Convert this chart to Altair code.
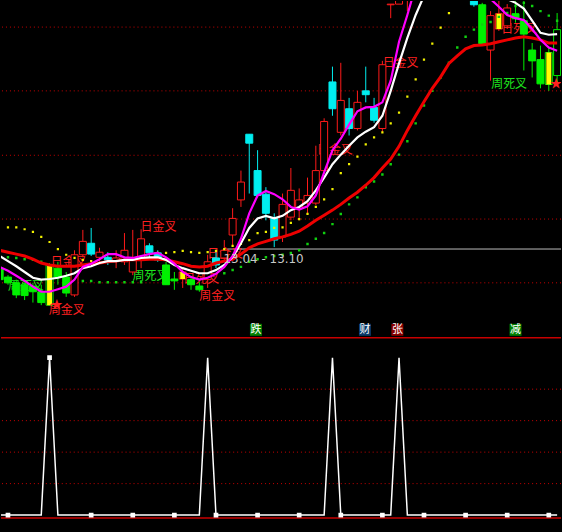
import altair as alt
import pandas as pd

# ---- candles (index -1 .. 66) ----
idx = list(range(-1, 67))

opens = [12.80, 12.67, 12.58, 12.55, 12.53, 12.44, 12.86, 12.81, 12.67, 12.39,
         13.02, 13.20, 12.98, 12.98, 12.92, 12.91, 12.75, 12.97, 13.16, 13.05,
         12.86, 12.64, 12.64, 12.63, 12.53, 12.63, 12.97, 12.97, 13.33, 13.88,
         14.91, 14.34, 13.97, 13.59, 13.30, 13.61, 13.75, 13.83, 13.83, 14.34,
         15.73, 14.94, 15.31, 15.00, 15.59, 15.33, 15.00, 16.94, 16.95, 17.50,
         17.90, 18.50, 18.20, 18.70, 18.30, 17.90, 18.00, 17.30, 16.94, 16.23,
         16.56, 16.61, 16.80, 16.69, 16.23, 16.08, 16.19, 16.55]
closes = [12.63, 12.58, 12.39, 12.38, 12.44, 12.27, 12.23, 12.67, 12.42, 13.02,
          13.23, 13.03, 13.06, 12.94, 12.97, 13.09, 12.94, 13.27, 13.05, 12.94,
          12.55, 12.61, 12.75, 12.55, 12.47, 12.91, 12.86, 13.09, 13.59, 14.16,
          14.77, 13.95, 13.67, 13.25, 13.81, 14.03, 13.88, 13.95, 14.34, 15.11,
          15.31, 15.44, 15.00, 15.41, 15.53, 15.13, 16.00, 16.95, 17.60, 17.90,
          18.40, 18.20, 18.70, 18.30, 17.90, 18.10, 17.50, 16.94, 16.33, 16.77,
          16.80, 16.89, 16.72, 16.48, 16.06, 15.70, 15.69, 15.83]
highs = [12.83, 12.70, 12.63, 12.59, 12.58, 12.55, 12.89, 12.91, 12.75, 13.09,
         13.41, 13.44, 13.13, 13.06, 13.09, 13.36, 13.41, 13.42, 13.20, 13.09,
         12.91, 12.75, 12.81, 12.69, 12.59, 13.02, 13.06, 13.25, 13.75, 14.34,
         14.91, 14.66, 14.08, 13.67, 13.98, 14.38, 14.06, 14.23, 14.73, 15.16,
         15.97, 16.03, 15.48, 15.59, 15.97, 15.48, 16.06, 16.95, 17.75, 18.10,
         18.60, 18.80, 18.90, 18.90, 18.50, 18.30, 18.10, 17.40, 16.97, 16.84,
         17.05, 16.95, 17.05, 17.05, 16.34, 16.30, 16.27, 16.81]
lows = [12.59, 12.55, 12.34, 12.31, 12.27, 12.23, 12.23, 12.55, 12.36, 12.36,
        12.98, 13.00, 12.91, 12.86, 12.81, 12.86, 12.70, 12.81, 12.97, 12.91,
        12.55, 12.47, 12.50, 12.47, 12.44, 12.50, 12.81, 12.91, 13.17, 13.77,
        13.98, 13.92, 13.56, 13.14, 13.22, 13.56, 13.56, 13.67, 13.80, 14.31,
        15.20, 14.89, 14.89, 14.97, 15.41, 15.09, 14.94, 16.73, 17.02, 16.84,
        17.70, 18.00, 18.10, 18.10, 17.80, 17.60, 17.30, 16.91, 16.30, 15.75,
        16.53, 16.56, 16.66, 15.91, 15.80, 15.63, 15.59, 15.70]
kinds = ["green", "green", "green", "green", "green", "green", "hollowgreen", "green", "green", "up",
         "up", "down", "up", "down", "up", "up", "up", "up", "down", "down",
         "green", "green", "up", "green", "green", "up", "down", "up", "up", "up",
         "down", "down", "down", "down", "up", "up", "up", "up", "up", "up",
         "down", "up", "down", "up", "down", "down", "up", "up", "up", "up",
         "up", "down", "up", "down", "down", "up", "down", "down", "green", "up",
         "up", "up", "green", "green", "green", "green", "hollowgreen", "hollowgreen"]
yellow_marked = [5, 21, 59, 65]

# ---- moving averages ----
ma_white = [13.00, 12.92, 12.84, 12.75, 12.66, 12.63, 12.64, 12.66, 12.69, 12.73,
            12.81, 12.84, 12.89, 12.92, 12.92, 12.94, 12.94, 12.97, 12.98, 12.98,
            12.94, 12.86, 12.81, 12.77, 12.73, 12.73, 12.78, 12.86, 12.98, 13.20,
            13.44, 13.59, 13.63, 13.59, 13.63, 13.72, 13.77, 13.86, 14.03, 14.23,
            14.44, 14.59, 14.73, 14.86, 14.95, 15.02, 15.20, 15.59, 16.02, 16.42,
            16.78, 17.08, 17.35, 17.55, 17.65, 17.62, 17.55, 17.45, 17.34, 17.23,
            17.13, 17.03, 16.97, 16.88, 16.69, 16.50, 16.47, 16.48]
ma_magenta = [12.83, 12.77, 12.69, 12.61, 12.52, 12.44, 12.44, 12.48, 12.52, 12.63,
              12.83, 12.88, 12.95, 13.03, 13.03, 12.98, 12.97, 13.00, 13.03, 13.05,
              12.98, 12.88, 12.75, 12.67, 12.63, 12.66, 12.72, 12.83, 13.00, 13.27,
              13.67, 13.95, 14.02, 13.97, 13.89, 13.77, 13.73, 13.78, 13.95, 14.31,
              14.66, 14.84, 15.06, 15.27, 15.33, 15.34, 15.41, 15.75, 16.36, 16.78,
              17.23, 17.63, 17.94, 18.13, 18.17, 18.09, 17.86, 17.55, 17.23, 17.03,
              16.91, 16.78, 16.73, 16.70, 16.56, 16.39, 16.27, 16.22]
ma_red = [13.09, 13.06, 13.03, 13.00, 12.95, 12.89, 12.86, 12.84, 12.84, 12.84,
          12.86, 12.88, 12.89, 12.91, 12.92, 12.94, 12.94, 12.94, 12.95, 12.95,
          12.94, 12.91, 12.88, 12.84, 12.83, 12.84, 12.89, 12.92, 12.95, 13.03,
          13.13, 13.19, 13.23, 13.27, 13.30, 13.34, 13.39, 13.47, 13.56, 13.64,
          13.72, 13.81, 13.91, 14.00, 14.11, 14.23, 14.38, 14.52, 14.72, 14.97,
          15.20, 15.42, 15.63, 15.81, 16.02, 16.14, 16.25, 16.30, 16.31, 16.33,
          16.36, 16.39, 16.42, 16.44, 16.42, 16.39, 16.34, 16.34]

# ---- dotted stop lines ----
dots_upper = [None, 13.45, 13.45, 13.42, 13.38, 13.30, 13.22, 13.11, 13.02, 12.97,
              12.94, 12.92, None, None, None, None, None, None, None, 13.05,
              13.05, 13.06, 13.08, 13.06, 13.05, 13.06, 13.08, 13.11, 13.16, 13.19,
              13.25, 13.36, 13.38, 13.44, 13.45, 13.52, 13.58, 13.66, 13.77, 13.89,
              14.05, 14.30, 14.44, 14.56, 14.75, 14.86, 14.94, 15.08, 15.25, 15.50,
              15.77, 16.08, 16.33, 16.58, 16.81, None, None, None, None, None,
              None, None, None, None, None, None, None, None]
dots_lower = [None, 12.98, 12.97, 12.95, 12.94, 12.91, None, None, None, None,
              12.61, 12.61, 12.59, 12.59, 12.59, 12.59, 12.59, 12.59, None, None,
              None, None, None, None, None, None, None, 12.73, 12.78, 12.83,
              12.91, 12.95, 12.98, 13.00, 13.02, 13.05, 13.09, 13.19, 13.27, 13.36,
              13.50, 13.66, 13.81, 13.92, 14.08, 14.17, 14.28, 14.44, 14.59, 14.80,
              15.08, 15.36, 15.59, 15.80, 16.03, 16.27, 16.44, 16.55, 16.63, 16.67,
              16.75, 16.81, 16.92, 16.97, 16.92, 16.84, 16.77, 16.69]

# ---- signal labels on the price panel ----
label_text = ["周死叉", "日金叉", "日金叉", "日金叉", "日金叉", "日死叉", "周死叉", "日死叉",
              "日金叉", "周死叉", "周金叉", "周金叉", "★", "★"]
label_i = [0.0, 5.15, 23.95, 37.13, 45.03, 59.28, 14.97, 21.08,
           15.93, 58.08, 4.91, 22.99, 5.15, 65.15]
label_p = [12.53, 12.91, 13.03, 14.66, 16.03, 16.56, 12.69, 12.64,
           13.45, 15.70, 12.16, 12.38, 12.23, 15.69]
label_color = ["#1ee61e", "#ff2020", "#ff2020", "#ff2020", "#ff2020", "#ff2020", "#1ee61e", "#ff2020",
               "#ff2020", "#1ee61e", "#ff2020", "#ff2020", "#ff2020", "#ff2020"]
label_front = [False, False, False, False, False, False, False, False,
               True, True, True, True, True, True]

grid_prices = [12.58, 13.58, 14.58, 15.59, 16.59]
price_line = {"start": 26.35, "end": 66.6, "p": 13.11, "text": "13.04 - 13.10", "text_i": 25.9, "text_p": 12.95}

# ---- lower indicator panel ----
signal = [0, 0, 0, 0, 0, 0, 100, 0, 0, 0,
          0, 0, 0, 0, 0, 0, 0, 0, 0, 0,
          0, 0, 0, 0, 0, 100, 0, 0, 0, 0,
          0, 0, 0, 0, 0, 0, 0, 0, 0, 0,
          100, 0, 0, 0, 0, 0, 0, 0, 100, 0,
          0, 0, 0, 0, 0, 0, 0, 0, 0, 0,
          0, 0, 0, 0, 0, 0, 0, 0]
marker_every = [0, 5, 10, 15, 20, 25, 30, 35, 40, 45, 50, 55, 60, 65]
sub_grid = [20, 40, 60, 80]
sub_frame = [112.66, -1.9]
tile_text = ["跌", "财", "张", "减"]
tile_i = [29.8, 42.9, 46.8, 61.0]
tile_color = ["#008000", "#0c3a6a", "#8b0000", "#008000"]
tile_v = 117.7

# ---------------------------------------------------------------
W, H_MAIN, H_SUB = 562, 320, 212
xs = alt.Scale(domain=[-0.838, 66.467], nice=False, zero=False)
ys = alt.Scale(domain=[12.0, 17.0], nice=False, zero=False)
ys2 = alt.Scale(domain=[-10.13, 124.05], nice=False, zero=False)
CJK = "Noto Sans CJK SC"

candles = pd.DataFrame({"i": idx, "open": opens, "close": closes,
                        "high": highs, "low": lows, "kind": kinds})
candles["body_lo"] = candles[["open", "close"]].min(axis=1)
candles["body_hi"] = candles[["open", "close"]].max(axis=1)

kind_dom = ["up", "down", "green", "hollowgreen"]
stroke_sc = alt.Scale(domain=kind_dom, range=["#ff1a1a", "#00eef0", "#00f000", "#00f000"])
fill_sc = alt.Scale(domain=kind_dom, range=["#000000", "#00eef0", "#00f000", "#000000"])

X = lambda f: alt.X(f, scale=xs, axis=None)
Y = lambda f: alt.Y(f, scale=ys, axis=None)

grid = alt.Chart(pd.DataFrame({"p": grid_prices})).mark_rule(
    color="#c80000", strokeDash=[1, 3], strokeWidth=1
).encode(y=Y("p:Q"))

pl = alt.Chart(pd.DataFrame([price_line])).mark_rule(
    color="#bdbdbd", strokeWidth=1, clip=True
).encode(x=X("start:Q"), x2="end:Q", y=Y("p:Q"))

labels = pd.DataFrame({"t": label_text, "i": label_i, "p": label_p,
                       "c": label_color, "front": label_front})


def label_layer(front):
    return alt.Chart(labels[labels.front == front]).mark_text(
        font=CJK, fontSize=12, align="left", baseline="middle", clip=True
    ).encode(x=X("i:Q"), y=Y("p:Q"), text="t:N", color=alt.Color("c:N", scale=None))


wicks = alt.Chart(candles).mark_rule(strokeWidth=1, clip=True).encode(
    x=X("i:Q"), y=Y("low:Q"), y2="high:Q",
    color=alt.Color("kind:N", scale=stroke_sc, legend=None))

bodies = alt.Chart(candles).transform_calculate(
    xa="datum.i - 0.42", xb="datum.i + 0.42"
).mark_rect(strokeWidth=1, clip=True).encode(
    x=X("xa:Q"), x2="xb:Q", y=Y("body_lo:Q"), y2="body_hi:Q",
    fill=alt.Fill("kind:N", scale=fill_sc, legend=None),
    stroke=alt.Stroke("kind:N", scale=stroke_sc, legend=None))

yellow = alt.Chart(candles[candles.i.isin(yellow_marked)]).transform_calculate(
    xa="datum.i - 0.3", xb="datum.i + 0.3"
).mark_rect(color="#ffff00", clip=True).encode(
    x=X("xa:Q"), x2="xb:Q", y=Y("body_lo:Q"), y2="body_hi:Q")

dots = pd.DataFrame({"i": idx, "up": dots_upper, "lo": dots_lower})
dots_up = alt.Chart(dots.dropna(subset=["up"])).mark_square(
    size=5, color="#f0f000", opacity=1, clip=True).encode(x=X("i:Q"), y=Y("up:Q"))
dots_lo = alt.Chart(dots.dropna(subset=["lo"])).mark_square(
    size=6, color="#10d010", opacity=1, clip=True).encode(x=X("i:Q"), y=Y("lo:Q"))

ma = pd.DataFrame({"i": idx, "w": ma_white, "m": ma_magenta, "r": ma_red})
line_red = alt.Chart(ma).mark_line(color="#ee0000", strokeWidth=3, clip=True).encode(x=X("i:Q"), y=Y("r:Q"))
line_white = alt.Chart(ma).mark_line(color="#ffffff", strokeWidth=2.2, clip=True).encode(x=X("i:Q"), y=Y("w:Q"))
line_mag = alt.Chart(ma).mark_line(color="#ff00ff", strokeWidth=2.2, clip=True).encode(x=X("i:Q"), y=Y("m:Q"))

price_text = alt.Chart(pd.DataFrame([price_line])).mark_text(
    font="DejaVu Sans", fontSize=12, align="left", baseline="middle", color="#c8c8c8", clip=True
).encode(x=X("text_i:Q"), y=Y("text_p:Q"), text="text:N")

main = alt.layer(
    grid, pl, label_layer(False), wicks, bodies, yellow, dots_up, dots_lo,
    line_red, line_white, line_mag, price_text, label_layer(True)
).properties(width=W, height=H_MAIN)

# ---- lower panel ----
Y2 = lambda f: alt.Y(f, scale=ys2, axis=None)
sig = pd.DataFrame({"i": idx, "v": signal})

frame = alt.Chart(pd.DataFrame({"v": sub_frame})).mark_rule(
    color="#c80000", strokeWidth=1.5).encode(y=Y2("v:Q"))
sgrid = alt.Chart(pd.DataFrame({"v": sub_grid})).mark_rule(
    color="#c80000", strokeDash=[1, 3], strokeWidth=1).encode(y=Y2("v:Q"))
sig_line = alt.Chart(sig).mark_line(color="white", strokeWidth=1.5, clip=True).encode(
    x=X("i:Q"), y=Y2("v:Q"))
sig_marks = alt.Chart(sig[sig.i.isin(marker_every)]).mark_square(
    size=22, color="white", opacity=1, clip=True).encode(x=X("i:Q"), y=Y2("v:Q"))

tiles = pd.DataFrame({"t": tile_text, "i": tile_i, "c": tile_color, "v": tile_v})
tile_bg = alt.Chart(tiles).mark_square(size=144, opacity=1).encode(
    x=X("i:Q"), y=Y2("v:Q"), color=alt.Color("c:N", scale=None))
tile_tx = alt.Chart(tiles).mark_text(
    font=CJK, fontSize=11, color="white", align="center", baseline="middle"
).encode(x=X("i:Q"), y=Y2("v:Q"), text="t:N")

sub = alt.layer(frame, sgrid, sig_line, sig_marks, tile_bg, tile_tx).properties(
    width=W, height=H_SUB)

chart = alt.vconcat(main, sub, spacing=0).properties(
    background="#000000", padding=0
).configure_view(strokeWidth=0)

chart.save("out.html", embed_options={"renderer": "svg", "actions": False})
